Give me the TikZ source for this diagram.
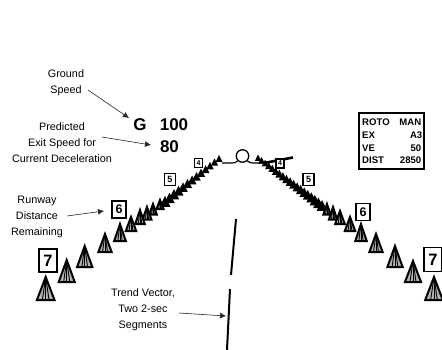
\documentclass[tikz,border=0pt]{standalone}
\usepackage{fontspec}
\setmainfont{Liberation Sans}
\usetikzlibrary{arrows.meta}
\tikzset{
  lab/.style={align=center,inner sep=0pt,font=\fontsize{10.8}{16}\selectfont,text=black},
  big/.style={inner sep=0pt,font=\fontsize{17}{17}\bfseries\selectfont},
  leg/.style={inner sep=0pt,font=\fontsize{9.6}{10}\bfseries\selectfont},
  callout/.style={draw=black!85,line width=0.6pt,-{Latex[length=6pt,width=6pt]}},
  trend/.style={draw=black,line width=2pt},
  rwy/.style={draw=black,line width=1.2pt},
  cone/.style={draw=black,line width=2pt,fill=white!70!black,line join=miter},
  stripe/.style={draw=black,line width=0.9pt},
  solidcone/.style={fill=black},
  dbox/.style={draw=black,line width=1.1pt,fill=white,inner sep=0pt,anchor=center}
}
\newcommand{\rwcone}[4]{%
  \draw[cone] (#1,#2) -- (#1-#4,#3) -- (#1+#4,#3) -- cycle;
  \draw[stripe] (#1,#2) -- (#1-0.38*#4,#3);
  \draw[stripe] (#1,#2) -- (#1,#3);
  \draw[stripe] (#1,#2) -- (#1+0.38*#4,#3);
}
\newcommand{\sdcone}[3]{%
  \fill[solidcone] (#1,#2) -- (#1-#3,#2+2*#3) -- (#1+#3,#2+2*#3) -- cycle;
}
\begin{document}
\begin{tikzpicture}[x=1pt,y=-1pt]
\useasboundingbox (0,0) rectangle (442,350);

% left edge of the runway
\foreach \i in {0,...,12}{
  \pgfmathsetmacro\px{165+\i*(219-165)/12}
  \pgfmathsetmacro\py{196-\i*(196-155)/12}
  \pgfmathsetmacro\ph{5.4-\i*(5.4-3.4)/12}
  \sdcone{\px}{\py}{\ph}
}
\rwcone{160}{200}{209}{3.5}
\rwcone{153}{204}{214.5}{3.8}
\rwcone{147}{207}{219.5}{4.4}
\rwcone{140}{210}{224}{4.8}
\rwcone{131}{217}{231}{5.2}
\rwcone{120}{224}{241}{5.8}
\rwcone{105}{234}{252}{6.6}
\rwcone{84.7}{246}{267}{7.6}
\rwcone{66.7}{260}{282}{8}
\rwcone{45.7}{277}{300}{8.8}

% right edge of the runway
\foreach \i in {0,...,18}{
  \pgfmathsetmacro\px{322-\i*(322-258)/18}
  \pgfmathsetmacro\py{200-\i*(200-154.5)/18}
  \pgfmathsetmacro\ph{5.4-\i*(5.4-3.2)/18}
  \sdcone{\px}{\py}{\ph}
}
\rwcone{327}{204}{214.5}{3.6}
\rwcone{333}{207}{219.5}{4.1}
\rwcone{340}{211}{224}{4.8}
\rwcone{350}{217}{231}{5.2}
\rwcone{361}{224}{241}{5.7}
\rwcone{376}{234}{252}{6.6}
\rwcone{395}{246}{267}{7.6}
\rwcone{413}{261}{282}{8}
\rwcone{434}{277}{300}{8.8}

% horizon stub on the right
\coordinate (stubA) at (264,163);
\coordinate (stubB) at (293,157.5);
\draw[black,line width=2.6pt] (stubA) -- (stubB);

% aircraft reference symbol
\coordinate (wingL) at (222,163);
\coordinate (wingR) at (263,163);
\node[circle,draw=black,line width=1.3pt,minimum size=12.5pt,inner sep=0pt] (ring) at (242.5,156) {};
\draw[rwy] (wingL) -- (232,163) to[out=0,in=230] (ring.south west);
\draw[rwy] (wingR) -- (254,163) to[out=180,in=310] (ring.south east);

% distance markers
\node[dbox,minimum width=18pt,minimum height=23pt,font=\fontsize{16.5}{16}\bfseries\selectfont] (seven) at (48,260.5) {7};
\node[dbox,minimum width=14pt,minimum height=17pt,font=\fontsize{12.5}{14}\bfseries\selectfont] (six) at (119,209.5) {6};
\node[dbox,minimum width=11pt,minimum height=12.5pt,font=\fontsize{9}{10}\bfseries\selectfont] (five) at (170,179.5) {5};
\node[dbox,minimum width=8.5pt,minimum height=9pt,font=\fontsize{7}{8}\bfseries\selectfont] (four) at (198.5,163) {4};
\node[dbox,minimum width=11pt,minimum height=12.5pt,font=\fontsize{9}{10}\bfseries\selectfont] (fiveR) at (308.5,179.5) {5};
\node[dbox,minimum width=8pt,minimum height=9pt,font=\fontsize{7}{8}\bfseries\selectfont] (fourR) at (280,163.5) {4};
\node[dbox,minimum width=14pt,minimum height=17pt,font=\fontsize{12.5}{14}\bfseries\selectfont] (sixR) at (363,212) {6};
\node[dbox,minimum width=18pt,minimum height=24pt,font=\fontsize{16.5}{16}\bfseries\selectfont] (sevenR) at (433,259.5) {7};

% speed readouts
\node[big] (g) at (140,125) {G};
\node[big] (gs) at (174,125) {100};
\node[big] (pe) at (169.5,146.5) {80};

% status box
\node[draw=black,line width=1.2pt,minimum width=65pt,minimum height=56pt,inner sep=0pt] (panel) at (391.5,141) {};
\node[leg,anchor=west] (l1) at (362,122.5) {ROTO};
\node[leg,anchor=east] (r1) at (421.5,122.5) {MAN};
\node[leg,anchor=west] (l2) at (362,135) {EX};
\node[leg,anchor=east] (r2) at (422.5,135) {A3};
\node[leg,anchor=west] (l3) at (362,148) {VE};
\node[leg,anchor=east] (r3) at (421.5,148) {50};
\node[leg,anchor=west] (l4) at (362,160.5) {DIST};
\node[leg,anchor=east] (r4) at (421.5,160.5) {2850};

% trend vector
\coordinate (t1a) at (236,219);
\coordinate (t1b) at (231,275);
\coordinate (t2a) at (230,289);
\coordinate (t2b) at (227,350);
\draw[trend] (t1a) -- (t1b);
\draw[trend] (t2a) -- (t2b);

% labels
\node[lab] (lgs) at (66,82.5) {Ground\\Speed};
\node[lab] (lpe) at (62,143) {Predicted\\Exit Speed for\\Current Deceleration};
\node[lab] (lrd) at (37,217) {Runway\\Distance\\Remaining};
\node[lab] (ltv) at (143,310) {Trend Vector,\\Two 2-sec\\Segments};

% callouts
\coordinate (a1s) at (88,90);   \coordinate (a1e) at (129,118);
\coordinate (a2s) at (102,137); \coordinate (a2e) at (151,145);
\coordinate (a3s) at (67,216);  \coordinate (a3e) at (104,211);
\coordinate (a4s) at (179,313); \coordinate (a4e) at (226,316);
\draw[callout] (a1s) -- (a1e);
\draw[callout] (a2s) -- (a2e);
\draw[callout] (a3s) -- (a3e);
\draw[callout] (a4s) -- (a4e);
\end{tikzpicture}
\end{document}
